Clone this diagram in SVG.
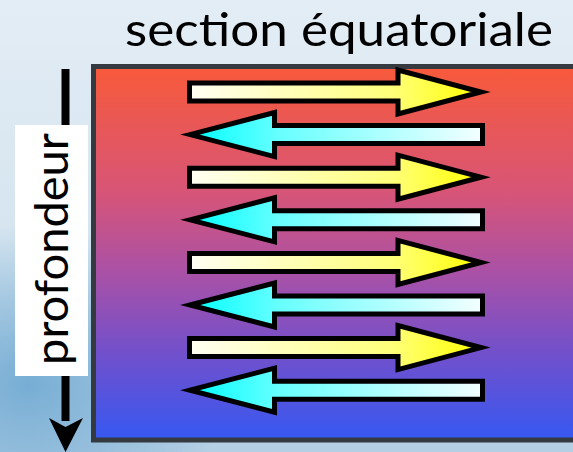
<svg xmlns="http://www.w3.org/2000/svg" width="573" height="452" viewBox="0 0 573 452">
  <defs>
    <linearGradient id="bg" x1="0" y1="0" x2="0" y2="1">
      <stop offset="0" stop-color="#e3edf5"/>
      <stop offset="0.5" stop-color="#d6e5f0"/>
      <stop offset="1" stop-color="#b4cfe4"/>
    </linearGradient>
    <radialGradient id="blob" cx="0.05" cy="0.85" r="0.35">
      <stop offset="0" stop-color="#6fa9d2" stop-opacity="0.9"/>
      <stop offset="1" stop-color="#6fa9d2" stop-opacity="0"/>
    </radialGradient>
    <linearGradient id="sea" x1="0" y1="0" x2="0" y2="1">
      <stop offset="0" stop-color="#f85a3a"/>
      <stop offset="0.33" stop-color="#d85576"/>
      <stop offset="0.55" stop-color="#aa51a6"/>
      <stop offset="0.77" stop-color="#7150cc"/>
      <stop offset="1" stop-color="#3658f2"/>
    </linearGradient>
    <linearGradient id="gR" x1="0" y1="0" x2="1" y2="0">
      <stop offset="0" stop-color="#fffff4"/>
      <stop offset="0.7" stop-color="#ffff78"/>
      <stop offset="1" stop-color="#ffff00"/>
    </linearGradient>
    <linearGradient id="gL" x1="0" y1="0" x2="1" y2="0">
      <stop offset="0" stop-color="#00ffff"/>
      <stop offset="0.3" stop-color="#66ffff"/>
      <stop offset="1" stop-color="#f4ffff"/>
    </linearGradient>
    <path id="ar" d="M0,-9 H208.5 V-22 L291.5,0 L208.5,22 V9 H0 Z"/>
    <path id="al" d="M0,0 L84.5,-22 V-9 H292.5 V9 H84.5 V22 Z"/>
  </defs>
  <style>
    .t { font-family: Lato, "Liberation Sans", sans-serif; fill: #000; }
    .r { fill: url(#gR); stroke: #000; stroke-width: 5; stroke-linejoin: miter; stroke-miterlimit: 10; }
    .l { fill: url(#gL); stroke: #000; stroke-width: 5; stroke-linejoin: miter; stroke-miterlimit: 10; }
  </style>
  <rect width="573" height="452" fill="url(#bg)"/>
  <rect width="573" height="452" fill="url(#blob)"/>

  <g id="title">
    <text class="t" x="125" y="46" font-size="47" textLength="428" lengthAdjust="spacingAndGlyphs">section équatoriale</text>
  </g>

  <g id="section">
    <rect x="93.5" y="66.5" width="500" height="373.5" fill="url(#sea)" stroke="#343a40" stroke-width="5"/>
  </g>

  <g id="connectors">
    <g id="depth-axis">
      <rect x="61.5" y="69" width="8" height="352" fill="#000"/>
      <path d="M49,418 L65.5,452 L83,418 L65.5,427 Z" fill="#000"/>
    </g>
    <g id="flows">
      <use href="#ar" class="r" transform="translate(189.5,92)"/>
      <use href="#al" class="l" transform="translate(190,134.6)"/>
      <use href="#ar" class="r" transform="translate(189.5,177.2)"/>
      <use href="#al" class="l" transform="translate(190,219.8)"/>
      <use href="#ar" class="r" transform="translate(189.5,262.4)"/>
      <use href="#al" class="l" transform="translate(190,305)"/>
      <use href="#ar" class="r" transform="translate(189.5,347.6)"/>
      <use href="#al" class="l" transform="translate(190,390.2)"/>
    </g>
  </g>

  <g id="depth-label">
    <rect x="15" y="125" width="73" height="251" fill="#fff"/>
    <text class="t" transform="translate(68,365) rotate(-90)" font-size="46" textLength="232" lengthAdjust="spacingAndGlyphs">profondeur</text>
  </g>
</svg>
